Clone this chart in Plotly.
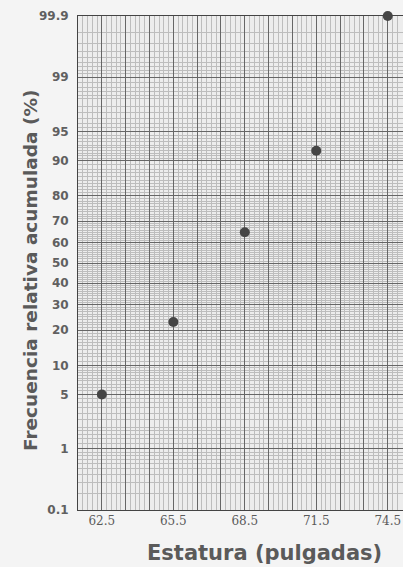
import plotly.graph_objects as go
from statistics import NormalDist

# Data
estatura = [62.5, 65.5, 68.5, 71.5, 74.5]          # upper class boundaries (in)
frec_acum = [5, 23, 65, 92, 99.9]                   # cumulative relative frequency (%)
y_labels = [0.1, 1, 5, 10, 20, 30, 40, 50, 60, 70, 80, 90, 95, 99, 99.9]
x_labels = [62.5, 65.5, 68.5, 71.5, 74.5]

nd = NormalDist()
def z(p):
    return nd.inv_cdf(p / 100.0)

# grid helpers (probability paper rulings)
def frange(a, b, s):
    out, v = [], a
    while v <= b + 1e-9:
        out.append(round(v, 4))
        v += s
    return out

minor_p = (frange(0.1, 1, 0.1) + frange(1, 2, 0.2) + frange(2, 5, 0.5) + frange(5, 10, 0.5)
           + frange(10, 90, 1) + frange(90, 95, 0.5) + frange(95, 98, 0.5) + frange(98, 99, 0.2)
           + frange(99, 99.9, 0.1))
minor_p = sorted(set(p for p in minor_p if 0.1 <= p <= 99.9))

x_major = frange(61.5, 76.5, 1.0)
x_minor = frange(61.5, 76.5, 0.2)

fig = go.Figure()
fig.add_trace(go.Scatter(
    x=estatura, y=[z(p) for p in frec_acum], mode="markers",
    marker=dict(size=10, color="#454545"), cliponaxis=False, showlegend=False))

xt = [f"{v:.1f}" if v in x_labels else "" for v in x_major]
yt = [("%g" % p) for p in y_labels]

fig.update_layout(
    width=403, height=567,
    margin=dict(l=78, r=0, t=16, b=57, autoexpand=False),
    paper_bgcolor="#f4f4f4", plot_bgcolor="#ededed",
    xaxis=dict(range=[61.5, 75.14], tickmode="array", tickvals=x_major, ticktext=xt,
               automargin=False,
               showgrid=True, gridcolor="#666666", gridwidth=1, zeroline=False,
               ticks="", tickfont=dict(family="DejaVu Serif, serif", size=12, color="#5a5a5a"),
               showline=True, linecolor="#444444", linewidth=1, mirror=True,
               minor=dict(tickmode="array", tickvals=x_minor, showgrid=True,
                          gridcolor="#bdbdbd", gridwidth=0.6)),
    yaxis=dict(range=[z(0.1), z(99.9)], tickmode="array", tickvals=[z(p) for p in y_labels],
               automargin=False,
               ticktext=yt, showgrid=True, gridcolor="#666666", gridwidth=1, zeroline=False,
               ticks="", ticklabelstandoff=6,
               tickfont=dict(family="DejaVu Sans", size=12, color="#606060", weight="bold"),
               showline=True, linecolor="#444444", linewidth=1, mirror=True,
               minor=dict(tickmode="array", tickvals=[z(p) for p in minor_p], showgrid=True,
                          gridcolor="#bdbdbd", gridwidth=0.6)),
    annotations=[
        dict(text="<b>Estatura (pulgadas)</b>", xref="paper", yref="paper",
             x=(264 - 78) / (403 - 78), y=-(553 - 510) / 494, xanchor="center", yanchor="middle",
             showarrow=False, font=dict(family="DejaVu Sans", size=21, color="#5a5a5a")),
        dict(text="<b>Frecuencia relativa acumulada (%)</b>", xref="paper", yref="paper",
             x=-(78 - 30) / 325, y=1 - (271 - 16) / 494, xanchor="center", yanchor="middle",
             textangle=-90, showarrow=False,
             font=dict(family="DejaVu Sans", size=18.5, color="#5a5a5a")),
    ],
)

fig.write_html("out.html", config={"displayModeBar": False},
               post_script="document.body.style.margin='0';document.body.style.overflow='hidden';")
